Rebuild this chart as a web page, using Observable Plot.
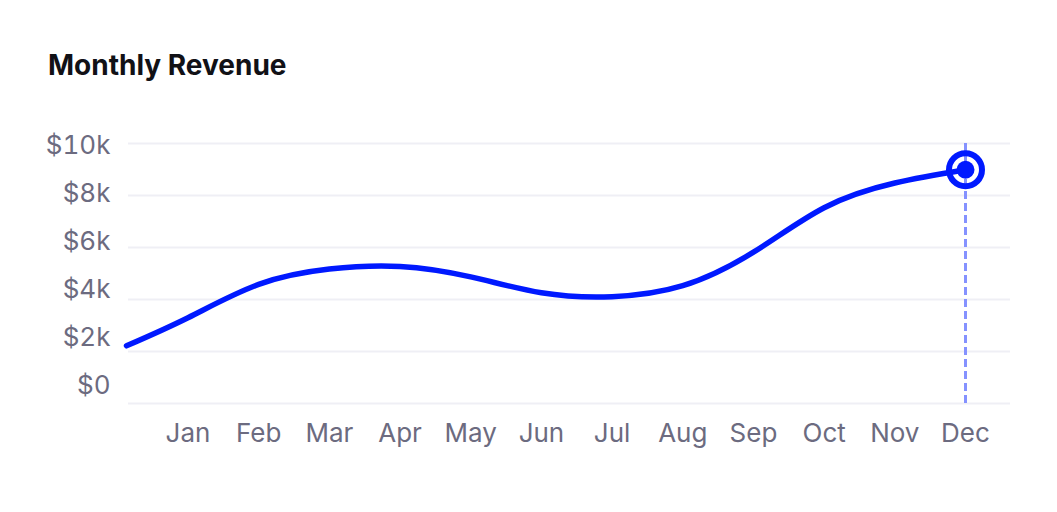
<!DOCTYPE html>
<html>
<head>
<meta charset="utf-8">
<script src="https://cdn.jsdelivr.net/npm/d3@7"></script>
<script src="https://cdn.jsdelivr.net/npm/@observablehq/plot@0.6"></script>
<style>
  html, body { margin: 0; padding: 0; background: #fff; }
  #wrap { position: relative; width: 1057px; height: 512px; overflow: hidden; font-family: Inter, "Open Sans", sans-serif; }
  #title { position: absolute; left: 48px; top: 51px; font-size: 28px; line-height: 28px; font-weight: 700; color: #111116; }
  #wrap svg { position: absolute; left: 0; top: 0; }
</style>
</head>
<body>
<div id="wrap"><div id="title">Monthly Revenue</div></div>
<script>
// Data
const monthLabels = ["Jan","Feb","Mar","Apr","May","Jun","Jul","Aug","Sep","Oct","Nov","Dec"];
const positions = [0.13, 1, 2, 3, 4, 5, 6, 7, 8, 9, 10, 11, 12]; // month index; first is the opening point
const revenue = [2220, 3300, 4580, 5170, 5270, 4870, 4260, 4110, 4530, 5820, 7530, 8480, 8990];
const yTicks = [0, 2000, 4000, 6000, 8000, 10000];
const yTickLabels = ["$0", "$2k", "$4k", "$6k", "$8k", "$10k"];
const highlightMonth = 12;

const series = positions.map((p, i) => ({x: p, y: revenue[i]}));
const highlight = series.filter(d => d.x === highlightMonth);

const blue = "#0019ff";
const grey = "#6c6b80";

const main = Plot.plot({
  width: 1057,
  height: 512,
  marginLeft: 128,
  marginRight: 47,
  marginTop: 143,
  marginBottom: 109,
  style: {fontFamily: "Inter, sans-serif", fontSize: "26px", color: grey, background: "transparent", overflow: "visible"},
  x: {type: "linear", domain: [1, 12], range: [187.5, 965]},
  y: {domain: [0, 10000], range: [403, 143], axis: null},
  marks: [
    Plot.gridY(yTicks, {stroke: "#efeff5", strokeWidth: 2, strokeOpacity: 1}),
    Plot.axisX(d3.range(1, 13), {tickSize: 0, tickPadding: 20, tickFormat: i => monthLabels[i - 1], fill: grey, fontSize: 26, label: null}),
    Plot.ruleX([highlightMonth], {stroke: "#8592ff", strokeWidth: 3, strokeDasharray: "8,4"}),
    Plot.line(series, {x: "x", y: "y", curve: "natural", stroke: blue, strokeWidth: 5.5, strokeLinecap: "round", strokeLinejoin: "round"}),
    Plot.dot(highlight, {x: "x", y: "y", r: 16.5, fill: "none", stroke: blue, strokeWidth: 6}),
    Plot.dot(highlight, {x: "x", y: "y", r: 9, fill: blue, stroke: "none"})
  ]
});

const yLabels = Plot.plot({
  width: 128,
  height: 512,
  marginLeft: 110,
  marginRight: 0,
  marginTop: 0,
  marginBottom: 0,
  style: {fontFamily: "Inter, sans-serif", fontSize: "26px", color: grey, background: "transparent", overflow: "visible"},
  x: {axis: null},
  y: {domain: [0, 10000], range: [385, 145], axis: null},
  marks: [
    Plot.axisY(yTicks, {tickSize: 0, tickPadding: 0, tickFormat: v => yTickLabels[yTicks.indexOf(v)], fill: grey, fontSize: 26, label: null})
  ]
});

const wrap = document.getElementById("wrap");
wrap.appendChild(main);
wrap.appendChild(yLabels);
</script>
</body>
</html>
